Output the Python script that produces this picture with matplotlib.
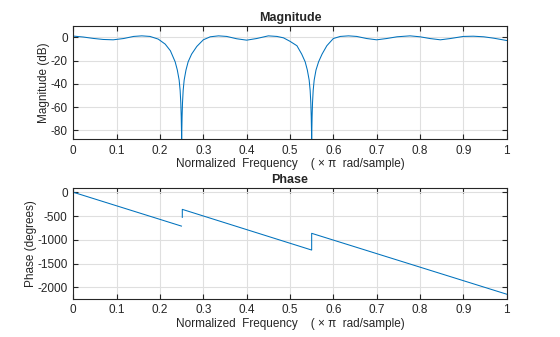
import matplotlib
matplotlib.use("Agg")
import matplotlib.pyplot as plt
import numpy as np

plt.rcParams['font.family'] = ['Liberation Sans', 'DejaVu Sans']

# Magnitude response (normalized frequency, dB)
mag_freq = [0.000, 0.023, 0.046, 0.069, 0.092, 0.116, 0.139, 0.158, 0.177, 0.196,
            0.212, 0.224, 0.235, 0.240, 0.2442, 0.2465, 0.248, 0.249, 0.2500,
            0.251, 0.252, 0.2535, 0.2558, 0.260,
            0.265, 0.273, 0.285, 0.300, 0.316, 0.335, 0.354, 0.377, 0.400, 0.423,
            0.450, 0.470, 0.485, 0.500, 0.516, 0.527, 0.535, 0.540, 0.5442, 0.5465,
            0.548, 0.549, 0.5500, 0.551, 0.552, 0.5535, 0.5558, 0.560,
            0.566, 0.574, 0.585, 0.600, 0.616, 0.635,
            0.654, 0.677, 0.700, 0.723, 0.747, 0.777, 0.800, 0.823, 0.847, 0.870,
            0.900, 0.923, 0.947, 0.970, 1.000]
mag_db = [1.2, 0.4, -0.8, -1.7, -2.0, -0.9, 0.9, 1.4, 0.9, -1.4,
          -5.7, -11.4, -20.9, -28.0, -36.6, -45.5, -56.0, -68.0, -87.5,
          -68.0, -56.0, -45.5, -36.6, -28.0,
          -20.9, -14.3, -7.7, -2.0, 0.6, 1.4, 0.9, -1.1, -2.3, -0.9,
          1.4, 0.9, -0.3, -3.3, -7.1, -14.3, -20.9, -28.0, -36.6, -45.5,
          -56.0, -68.0, -87.5, -68.0, -56.0, -45.5, -36.6, -28.0,
          -20.9, -14.3, -7.1, -0.9, 0.9, 1.4,
          0.9, -0.9, -2.0, -0.9, 0.6, 1.4, 0.6, -0.9, -2.0, -0.9,
          0.9, 1.1, 0.6, -0.6, -2.6]

# Phase response (normalized frequency, degrees); NaN marks a break in the line
phase_freq = [0.000, 0.2495, np.nan, 0.2515, 0.2515, 0.5500, 0.5500, 1.000]
phase_deg = [0.0, -712.0, np.nan, -528.0, -360.0, -1216.0, -864.0, -2145.0]

xticks = [0, 0.1, 0.2, 0.3, 0.4, 0.5, 0.6, 0.7, 0.8, 0.9, 1]
xticklabels = ['0', '0.1', '0.2', '0.3', '0.4', '0.5', '0.6', '0.7', '0.8', '0.9', '1']
mag_yticks = [0, -20, -40, -60, -80]
phase_yticks = [0, -500, -1000, -1500, -2000]

line_color = '#0072BD'
axis_color = '#262626'
grid_color = '#dfdfdf'
fs = 8.5

fig = plt.figure(figsize=(5.6, 3.37), dpi=100)
ax1 = fig.add_axes([0.1309, 0.5866, 0.7739, 0.3377])
ax2 = fig.add_axes([0.1309, 0.1136, 0.7739, 0.3300])


def style(ax):
    ax.set_xlim(0, 1)
    ax.set_xticks(xticks)
    ax.set_xticklabels(xticklabels)
    ax.grid(True, color=grid_color, linewidth=0.8)
    ax.set_axisbelow(True)
    ax.tick_params(direction='in', length=3.5, width=0.8, colors=axis_color,
                   labelsize=fs, top=True, right=True, pad=4)
    for s in ax.spines.values():
        s.set_color(axis_color)
        s.set_linewidth(0.8)
    ax.set_xlabel('Normalized  Frequency    ( \u00d7 \u03c0  rad/sample)',
                  fontsize=fs, color=axis_color, labelpad=1)


ax1.plot(mag_freq, mag_db, color=line_color, linewidth=0.75)
style(ax1)
ax1.set_ylim(-87.6, 10.3)
ax1.set_yticks(mag_yticks)
ax1.set_yticklabels([str(v) for v in mag_yticks])
ax1.set_ylabel('Magnitude (dB)', fontsize=fs, color=axis_color)
ax1.yaxis.set_label_coords(-0.054, 0.5)
ax1.set_title('Magnitude', fontsize=9, fontweight='bold', color=axis_color, pad=3)

ax2.plot(phase_freq, phase_deg, color=line_color, linewidth=0.75)
style(ax2)
ax2.set_ylim(-2240, 100)
ax2.set_yticks(phase_yticks)
ax2.set_yticklabels([str(v) for v in phase_yticks])
ax2.set_ylabel('Phase (degrees)', fontsize=fs, color=axis_color)
ax2.yaxis.set_label_coords(-0.084, 0.5)
ax2.set_title('Phase', fontsize=9, fontweight='bold', color=axis_color, pad=3)

fig.savefig('out.png', dpi=100, facecolor='white')
